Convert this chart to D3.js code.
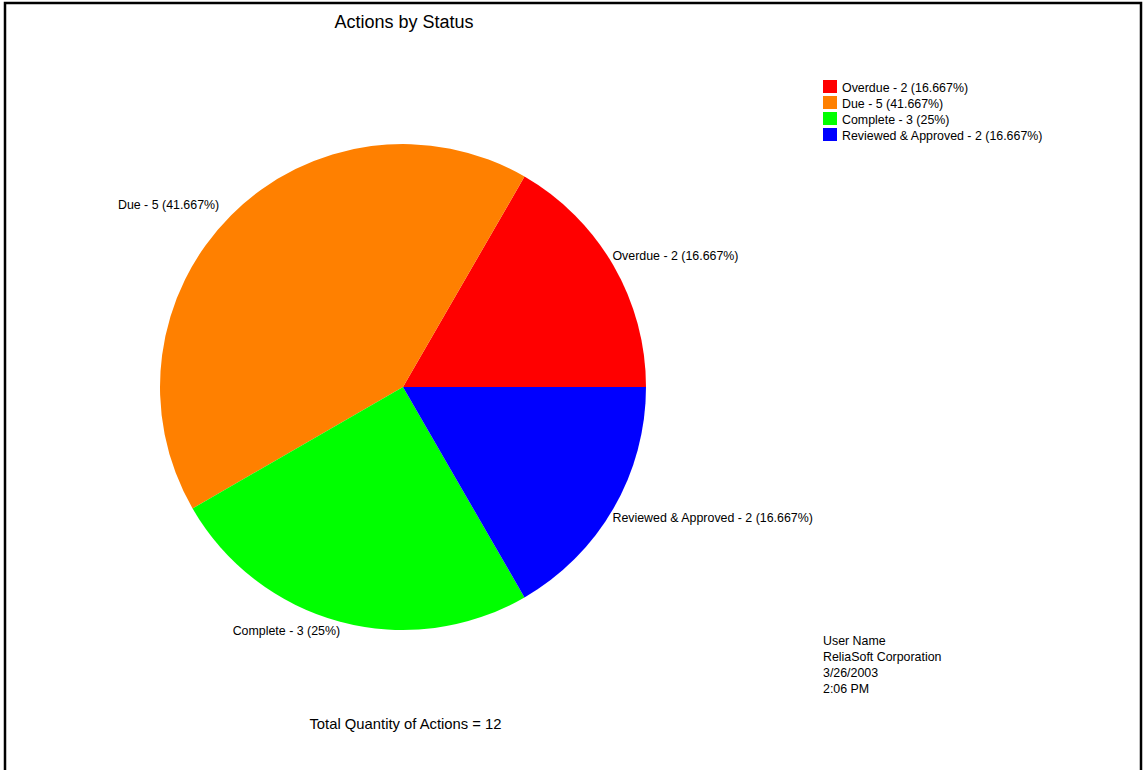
<!DOCTYPE html>
<html>
<head>
<meta charset="utf-8">
<script src="https://cdn.jsdelivr.net/npm/d3@7"></script>
<style>
  html, body { margin: 0; padding: 0; background: #fff; }
  svg { display: block; font-family: "Liberation Sans", Arial, sans-serif; }
</style>
</head>
<body>
<svg id="chart" width="1145" height="770"></svg>
<script>
// Status breakdown of actions
const categories = ["Overdue", "Due", "Complete", "Reviewed & Approved"];
const counts = [2, 5, 3, 2];
const colors = ["#FF0000", "#FF8000", "#00FF00", "#0000FF"];
const footerLines = ["User Name", "ReliaSoft Corporation", "3/26/2003", "2:06 PM"];

const total = d3.sum(counts);
const pctFmt = v => `${+(v * 100).toFixed(3)}%`;
const labelText = i => `${categories[i]} - ${counts[i]} (${pctFmt(counts[i] / total)})`;

const svg = d3.select("#chart");

// frame
svg.append("path")
  .attr("d", "M5,770 L5,3 L1141,3 L1141,770")
  .attr("fill", "none").attr("stroke", "#000").attr("stroke-width", 2.5);

// title
svg.append("text")
  .attr("x", 404).attr("y", 28)
  .attr("text-anchor", "middle")
  .style("font-size", "18px")
  .text("Actions by Status");

// pie: first slice starts at 3 o'clock and runs counter-clockwise
const cx = 403, cy = 387, r = 243;
const pie = d3.pie().sort(null).value(d => d)
  .startAngle(Math.PI / 2).endAngle(Math.PI / 2 - 2 * Math.PI);
const arcs = pie(counts);
const arc = d3.arc().innerRadius(0).outerRadius(r);

const g = svg.append("g").attr("transform", `translate(${cx},${cy})`);
g.selectAll("path.slice").data(arcs).join("path")
  .attr("class", "slice")
  .attr("d", arc)
  .attr("fill", (d, i) => colors[i]);

// slice labels placed just outside the rim at each slice's mid angle
g.selectAll("text.lbl").data(arcs).join("text")
  .attr("class", "lbl")
  .style("font-size", "12.4px")
  .each(function (d, i) {
    const a = (d.startAngle + d.endAngle) / 2;
    const x = r * Math.sin(a), y = -r * Math.cos(a);
    const right = x >= 0, upper = y < 0;
    d3.select(this)
      .attr("x", right ? x - 1 : x + (upper ? -12 : 0))
      .attr("y", upper ? y - 6 : y + 13)
      .attr("text-anchor", right ? "start" : "end")
      .text(labelText(i));
  });

// legend
const legend = svg.append("g").attr("transform", "translate(823,80)");
const rows = legend.selectAll("g").data(categories).join("g")
  .attr("transform", (d, i) => `translate(0,${i * 16})`);
rows.append("rect").attr("width", 14).attr("height", 13)
  .attr("fill", (d, i) => colors[i]);
rows.append("text").attr("x", 19).attr("y", 12)
  .style("font-size", "12.4px")
  .text((d, i) => labelText(i));

// footer block
svg.append("g").selectAll("text").data(footerLines).join("text")
  .attr("x", 823).attr("y", (d, i) => 645 + i * 16)
  .style("font-size", "12.4px")
  .text(d => d);

// total
svg.append("text")
  .attr("x", 405.5).attr("y", 729)
  .attr("text-anchor", "middle")
  .style("font-size", "14.8px")
  .text(`Total Quantity of Actions = ${total}`);
</script>
</body>
</html>
